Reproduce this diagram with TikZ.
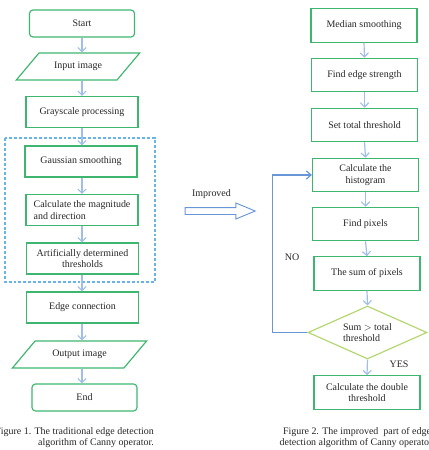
\documentclass[tikz,border=0pt]{standalone}
\usepackage{fontspec}
\setmainfont{Liberation Serif}
\usetikzlibrary{shapes.geometric,shapes.arrows,arrows.meta}
\definecolor{boxgreen}{RGB}{62,182,112}
\definecolor{flowblue}{RGB}{160,190,232}
\definecolor{dashblue}{RGB}{105,180,230}
\definecolor{loopblue}{RGB}{105,150,215}
\definecolor{decgreen}{RGB}{180,214,110}

\begin{document}
\begin{tikzpicture}[x=0.03cm,y=-0.03cm,
		every node/.style={font=\fontsize{8.5}{10}\selectfont, text=black!85},
		procbox/.style={draw=boxgreen, line width=1pt, minimum width=3.36cm, minimum height=0.93cm, align=center},
		rprocbox/.style={procbox, minimum width=3.18cm, minimum height=1cm},
		termbox/.style={procbox, rounded corners=3pt, minimum width=3.15cm, minimum height=0.81cm},
		iobox/.style={draw=boxgreen, line width=1pt, trapezium, trapezium left angle=50, trapezium right angle=130, minimum width=2.5cm, minimum height=0.81cm, inner xsep=0pt},
		decbox/.style={draw=decgreen, line width=1pt, diamond, aspect=2.25, inner sep=1pt, minimum width=3.57cm, minimum height=1.59cm, align=left},
		flow/.style={draw=flowblue, line width=1pt, -{Straight Barb[length=3.5pt,width=7pt]}},
		loopline/.style={draw=loopblue, line width=1pt, -{Straight Barb[length=4pt,width=7pt]}}
	]
	\clip (0,0) rectangle (429,450);
	% traditional algorithm
	\node[termbox] (start) at (82,23.5) {Start};
	\node[iobox] (input) at (78,66.5) {Input image};
	\node[procbox] (gray) at (82,112) {Grayscale processing};
	\node[procbox] (gauss) at (81,161.5) {Gaussian smoothing};
	\node[procbox, align=left] (calc) at (82,210) {Calculate the magnitude\\and direction};
	\node[procbox] (artif) at (82.5,258.5) {Artificially determined\\thresholds};
	\node[procbox] (edge) at (82.5,307.5) {Edge connection};
	\node[iobox] (output) at (79.5,354.5) {Output image};
	\node[termbox] (finish) at (84.5,397.5) {End};
	\draw[dashblue, dash pattern={on 2.5pt off 1.7pt}, line width=1pt] (5,138) rectangle (155,282);
	\foreach \a/\b in {start/input, input/gray, gray/gauss, gauss/calc, calc/artif, artif/edge, edge/output, output/finish}{
		\draw[flow] (\a.south -| gray) -- (\b.north -| gray);
	}
	\node[align=right, anchor=east, inner sep=0pt] (cap1) at (154,437.5) {Figure 1. The traditional edge detection\\algorithm of Canny operator.};

	% improved part
	\node (impr) at (211.5,194) {Improved};
	\node[draw=loopblue, line width=0.8pt, single arrow, single arrow tip angle=45, single arrow head extend=0.135cm, inner sep=0.09cm, minimum height=2.1cm] (bigarrow) at (216,211) {};

	\node[rprocbox] (median) at (364,25.5) {Median smoothing};
	\node[rprocbox] (strength) at (364.5,75) {Find edge strength};
	\node[rprocbox] (total) at (364.5,125) {Set total threshold};
	\node[rprocbox] (hist) at (365.5,175) {Calculate the\\histogram};
	\node[rprocbox] (pixels) at (365.5,224) {Find pixels};
	\node[rprocbox] (sum) at (367,273.5) {The sum of pixels};
	\node[decbox] (cond) at (367.5,332.5) {Sum $>$ total\\threshold};
	\node[rprocbox] (dbl) at (367,392.5) {Calculate the double\\threshold};
	\foreach \a/\b in {median/strength, strength/total, total/hist, hist/pixels, pixels/sum, sum/cond, cond/dbl}{
		\draw[flow] (\a.south) -- (\b.north);
	}
	\draw[loopline] (cond.west) -- ++(-35,0) |- (hist.west);
	\node (no) at (292,257) {NO};
	\node (yes) at (399,364) {YES};
	\node[align=center, inner sep=0pt] (cap2) at (357,437.5) {Figure 2. The improved~ part of edge\\detection algorithm of Canny operator.};
\end{tikzpicture}
\end{document}
